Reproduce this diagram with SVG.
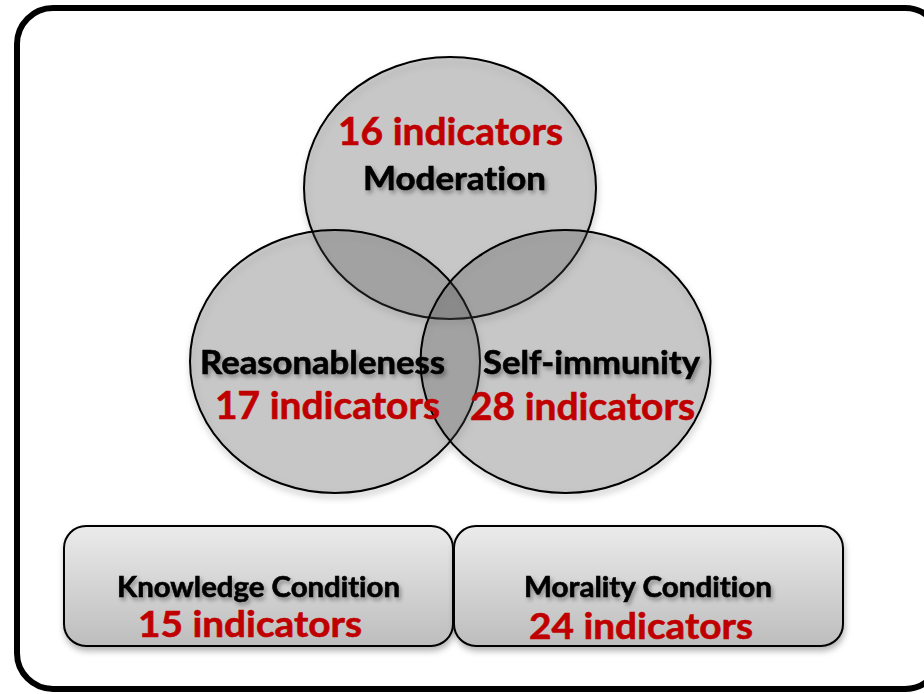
<svg xmlns="http://www.w3.org/2000/svg" width="924" height="694" viewBox="0 0 924 694">
  <style>
    .frame { fill: #ffffff; stroke: #000000; stroke-width: 6; }
    .set { fill: #4f4f4f; fill-opacity: 0.25; stroke: #000000; stroke-width: 2; }
    .box { fill: url(#boxFill); stroke: #000000; stroke-width: 2; }
    text { font-variant-ligatures: none; }
    .name { font-family: "Lato", "Open Sans", "Liberation Sans", sans-serif; font-weight: bold; fill: #000000; stroke: #000000; stroke-width: 0.6; filter: url(#textShadow); }
    .count { font-family: "Lato", "Open Sans", "Liberation Sans", sans-serif; font-weight: bold; fill: #c00000; stroke: #c00000; stroke-width: 0.6; }
    .big { font-size: 32px; }
    .small { font-size: 28px; }
    .num { font-size: 38px; }
    .num2 { font-size: 37px; }
  </style>
  <defs>
    <linearGradient id="boxFill" x1="0" y1="0" x2="0" y2="1">
      <stop offset="0" stop-color="#ebebeb"/>
      <stop offset="1" stop-color="#bdbdbd"/>
    </linearGradient>
    <filter id="shapeShadow" x="-10%" y="-10%" width="120%" height="125%">
      <feDropShadow dx="1" dy="4" stdDeviation="3" flood-color="#000000" flood-opacity="0.3"/>
    </filter>
    <filter id="textShadow" x="-10%" y="-30%" width="120%" height="170%">
      <feDropShadow dx="2" dy="3" stdDeviation="2" flood-color="#000000" flood-opacity="0.35"/>
    </filter>
  </defs>

  <!-- outer frame -->
  <rect class="frame" x="17" y="8" width="924" height="681" rx="36" ry="36"/>

  <!-- three overlapping sets -->
  <g id="venn" filter="url(#shapeShadow)">
    <g id="moderation">
      <ellipse class="set" cx="450" cy="188" rx="146" ry="131"/>
    </g>
    <g id="reasonableness">
      <ellipse class="set" cx="335" cy="361.5" rx="145" ry="131.5"/>
    </g>
    <g id="self-immunity">
      <ellipse class="set" cx="565.5" cy="361.5" rx="145" ry="131.5"/>
    </g>
  </g>

  <!-- set labels -->
  <g id="moderation-label">
    <text class="count num" x="338" y="145" textLength="225" lengthAdjust="spacingAndGlyphs">16 indicators</text>
    <text class="name big" x="363" y="190" textLength="183" lengthAdjust="spacingAndGlyphs">Moderation</text>
  </g>
  <g id="reasonableness-label">
    <text class="name big" x="200" y="374" textLength="245" lengthAdjust="spacingAndGlyphs">Reasonableness</text>
    <text class="count num" x="215" y="419" textLength="225" lengthAdjust="spacingAndGlyphs">17 indicators</text>
  </g>
  <g id="self-immunity-label">
    <text class="name big" x="483" y="374" textLength="217" lengthAdjust="spacingAndGlyphs">Self-immunity</text>
    <text class="count num" x="470" y="420" textLength="225" lengthAdjust="spacingAndGlyphs">28 indicators</text>
  </g>

  <!-- condition boxes -->
  <g id="knowledge-condition">
    <rect class="box" x="64" y="526" width="389" height="120" rx="22" ry="22" filter="url(#shapeShadow)"/>
    <text class="name small" x="117" y="597" textLength="283" lengthAdjust="spacingAndGlyphs">Knowledge Condition</text>
    <text class="count num2" x="138" y="637" textLength="224" lengthAdjust="spacingAndGlyphs">15 indicators</text>
  </g>
  <g id="morality-condition">
    <rect class="box" x="454" y="526" width="389" height="120" rx="22" ry="22" filter="url(#shapeShadow)"/>
    <text class="name small" x="524" y="597" textLength="248" lengthAdjust="spacingAndGlyphs">Morality Condition</text>
    <text class="count num2" x="529" y="639" textLength="224" lengthAdjust="spacingAndGlyphs">24 indicators</text>
  </g>

  <!-- no connectors in this figure -->
  <g id="connectors"/>
</svg>
